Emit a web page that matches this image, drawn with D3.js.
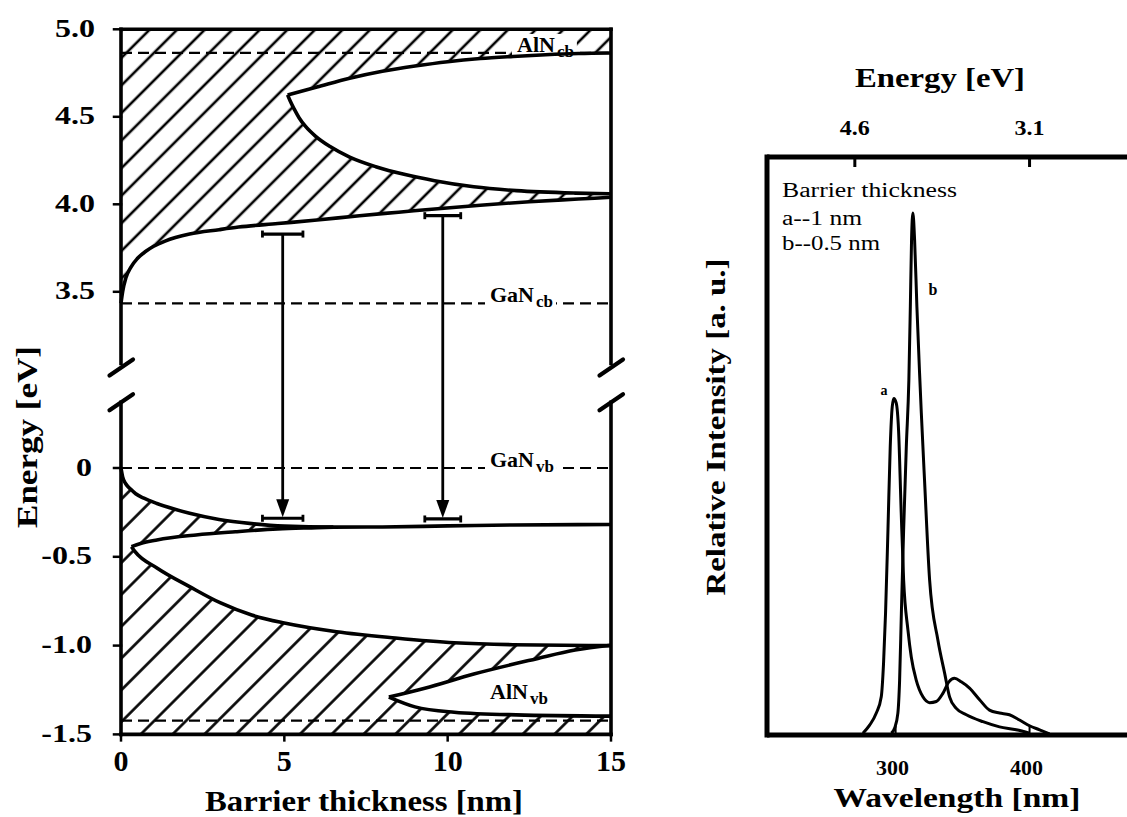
<!DOCTYPE html>
<html><head><meta charset="utf-8">
<script src="https://cdn.jsdelivr.net/npm/d3@7"></script>
<style>body{margin:0;background:#fff} svg{display:block} text{font-family:"Liberation Serif","Times New Roman",serif;fill:#000}</style>
</head><body>
<svg id="chart" width="1127" height="817"></svg>
<script>
// ---------------- data (left panel: band diagram) ----------------
const thicknessTicks = [0, 5, 10, 15];
const thicknessTickLabels = ["0", "5", "10", "15"];
const energyTicksUpper = [3.5, 4.0, 4.5, 5.0];
const energyTickLabelsUpper = ["3.5", "4.0", "4.5", "5.0"];
const energyTicksLower = [-1.5, -1.0, -0.5, 0];
const energyTickLabelsLower = ["-1.5", "-1.0", "-0.5", "0"];
const axisBreakEnergies = [3.09, 0.37];   // upper segment ends / lower segment starts

const bandEdgeNames = ["AlN", "GaN", "GaN", "AlN"];
const bandEdgeSubs = ["cb", "cb", "vb", "vb"];
const bandEdgeValues = [4.865, 3.434, 0, -1.423];

// conduction-band miniband lower edge
const cbEdgeX = [0, 0.05, 0.15, 0.3, 0.5, 0.75, 1.0, 1.35, 2.1, 3.0, 3.6, 4.8, 6.0, 7.3, 8.5, 9.7, 11, 12.5, 14, 15];
const cbEdgeE = [3.434, 3.50, 3.58, 3.64, 3.69, 3.73, 3.76, 3.79, 3.83, 3.855, 3.87, 3.89, 3.91, 3.935, 3.955, 3.975, 3.995, 4.015, 4.03, 4.04];
// conduction-band gap (white lens) upper and lower edges
const cbGapTopX = [5.1, 6.0, 7.0, 8.0, 9.0, 10.0, 11.0, 12.0, 13.0, 14.0, 15];
const cbGapTopE = [4.625, 4.67, 4.72, 4.76, 4.79, 4.815, 4.833, 4.845, 4.855, 4.862, 4.865];
const cbGapBotX = [5.1, 5.18, 5.3, 5.45, 5.65, 5.95, 6.4, 7.0, 7.8, 8.7, 9.6, 10.8, 12.1, 13.9, 15];
const cbGapBotE = [4.625, 4.59, 4.545, 4.495, 4.445, 4.39, 4.33, 4.27, 4.215, 4.17, 4.135, 4.1, 4.078, 4.064, 4.06];

// valence-band miniband upper edge
const vbEdgeX = [0, 0.05, 0.15, 0.3, 0.45, 0.7, 1.1, 1.6, 2.1, 3.0, 4.0, 5.0, 6.5, 8, 10, 12, 15];
const vbEdgeE = [0, -0.05, -0.09, -0.12, -0.145, -0.17, -0.2, -0.23, -0.255, -0.29, -0.313, -0.327, -0.333, -0.332, -0.326, -0.321, -0.318];
// valence-band gap (white lens)
const vbGapTopX = [0.32, 0.6, 1.1, 2.3, 3.5, 4.8, 6.0, 6.5];
const vbGapTopE = [-0.443, -0.425, -0.405, -0.377, -0.359, -0.343, -0.336, -0.333];
const vbGapBotX = [0.32, 0.43, 1.1, 2.1, 3.05, 4.0, 5.0, 6.6, 8.4, 10.2, 12, 15];
const vbGapBotE = [-0.443, -0.471, -0.563, -0.668, -0.76, -0.828, -0.873, -0.922, -0.957, -0.984, -0.995, -1.0];
// second valence gap near AlN_vb
const alnGapTopX = [8.2, 9.3, 10.8, 12.7, 13.9, 15];
const alnGapTopE = [-1.29, -1.24, -1.16, -1.075, -1.025, -0.998];
const alnGapBotX = [8.2, 9.0, 10.2, 12.1, 15];
const alnGapBotE = [-1.29, -1.345, -1.375, -1.39, -1.397];

// optical transitions (arrows)
const transitionX = [4.95, 9.85];
const transitionTopE = [3.83, 3.935];
const transitionBotE = [-0.283, -0.287];
const transitionHalfWidth = [0.62, 0.55];

// ---------------- data (right panel: PL spectra) ----------------
const energyTopTicks = [4.6, 3.1];
const energyTopLabels = ["4.6", "3.1"];
const wavelengthTicks = [300, 400];
const wavelengthTickLabels = ["300", "400"];
const curveAWavelength = [275.6,280.6,285.6,289.3,291,292.5,294.3,296,297.5,298.7,300.5,302.2,304.2,306,309.2,311.7,315.4,320.4,325.4,330.4,335.3,339.8,344,349,355.2,362.7,370.1,377.6,385,392.5,400,407.5,414.9];
const curveAIntensity  = [0.3,1.7,3.8,6.6,12.4,21.1,35.5,49.9,56.8,58.2,57.4,52.8,38.4,26.8,18.2,13.5,9.5,6.6,5.6,5.8,7.2,9.2,9.8,9.2,8.1,6.1,4.3,3.8,3.5,2.6,1.6,0.9,0.2];
const curveBWavelength = [296.8,299.3,301.7,303,304.3,306,308,309.9,311,311.9,312.9,314.2,315.9,317.9,319.2,321.6,325.4,331.6,336.6,340.3,345.3,352.8,365.2,377.6,390.1,400];
const curveBIntensity  = [0.3,1.2,3.8,9.5,21,35.5,49.9,61.4,74.1,85.6,90.3,85.6,74.1,62.6,55.7,44.1,26.8,16.4,10.7,6.6,4.6,3.5,2.3,1.4,0.9,0.3];
const legendLines = ["Barrier thickness", "a--1 nm", "b--0.5 nm"];

// ---------------- drawing ----------------
const svg = d3.select("#chart");
svg.append("rect").attr("width", 1127).attr("height", 817).attr("fill", "#fff");
const defs = svg.append("defs");
function hatch(id, w, sw) {
  const p = defs.append("pattern").attr("id", id).attr("patternUnits", "userSpaceOnUse")
    .attr("width", w).attr("height", w).attr("patternTransform", "rotate(45)");
  p.append("rect").attr("width", w).attr("height", w).attr("fill", "#fff");
  p.append("line").attr("x1", w / 2).attr("x2", w / 2).attr("y1", -1).attr("y2", w + 1)
    .attr("stroke", "#000").attr("stroke-width", sw);
}
hatch("hatchU", 19.5, 2.6);
hatch("hatchL", 22.5, 2.6);

const zip = (xs, ys) => xs.map((x, i) => [x, ys[i]]);
const xL = d3.scaleLinear().domain([0, 15]).range([121, 611]);
const yU = d3.scaleLinear().domain([3.5, 5.0]).range([291.8, 29.3]);
const yLo = d3.scaleLinear().domain([-1.5, 0]).range([734.4, 468]);
const lineU = d3.line().x(d => xL(d[0])).y(d => yU(d[1])).curve(d3.curveMonotoneX);
const lineLo = d3.line().x(d => xL(d[0])).y(d => yLo(d[1])).curve(d3.curveMonotoneX);
const cont = s => "L" + s.slice(1);

const L = svg.append("g");
// upper hatched region
const cbEdge = zip(cbEdgeX, cbEdgeE);
const cbTop = zip(cbGapTopX, cbGapTopE);
const cbBot = zip(cbGapBotX, cbGapBotE);
L.append("path").attr("fill", "url(#hatchU)")
  .attr("d", lineU(cbEdge) + `L${xL(15)},${yU(5)}L${xL(0)},${yU(5)}Z`);
L.append("path").attr("fill", "#fff")
  .attr("d", lineU(cbTop) + cont(lineU(cbBot.slice().reverse())) + "Z");

// lower hatched region
const vbEdge = zip(vbEdgeX, vbEdgeE);
const vbTop = zip(vbGapTopX, vbGapTopE);
const vbBot = zip(vbGapBotX, vbGapBotE);
const alnTop = zip(alnGapTopX, alnGapTopE);
const alnBot = zip(alnGapBotX, alnGapBotE);
L.append("path").attr("fill", "url(#hatchL)")
  .attr("d", lineLo(vbEdge) + `L${xL(15)},${yLo(-1.5)}L${xL(0)},${yLo(-1.5)}Z`);
const lastTopX = vbGapTopX[vbGapTopX.length - 1];
const vbTopFull = vbTop.concat(vbEdge.filter(d => d[0] > lastTopX));
L.append("path").attr("fill", "#fff")
  .attr("d", lineLo(vbTopFull) + cont(lineLo(vbBot.slice().reverse())) + "Z");
L.append("path").attr("fill", "#fff")
  .attr("d", lineLo(alnTop) + cont(lineLo(alnBot.slice().reverse())) + "Z");

// band-edge dashed lines and labels
const bandScale = [yU, yU, yLo, yLo];
const labelStartX = [517, 490, 490, 490];
bandEdgeValues.forEach((v, i) => {
  const y = bandScale[i](v);
  L.append("line").attr("x1", xL(0)).attr("x2", xL(15)).attr("y1", y).attr("y2", y)
    .attr("stroke", "#000").attr("stroke-width", 2.2).attr("stroke-dasharray", "11,6");
});
const labelG = L.append("g");
bandEdgeValues.forEach((v, i) => {
  const y = bandScale[i](v);
  const baseY = i === 3 ? yLo(-1.3) : y - 1;
  const t = labelG.append("text").attr("x", labelStartX[i]).attr("y", baseY)
    .attr("font-size", 22).attr("font-weight", "bold");
  t.append("tspan").text(bandEdgeNames[i]);
  t.append("tspan").attr("font-size", 17).attr("dy", 5).attr("dx", 2).text(bandEdgeSubs[i]);
  if (i !== 3) {
    const bb = t.node().getBBox();
    labelG.insert("rect", "text").attr("x", bb.x - 5).attr("y", bb.y + 2)
      .attr("width", bb.width + 8).attr("height", bb.height - 3).attr("fill", "#fff");
  }
});

// band curves
[[lineU, cbEdge], [lineU, cbTop], [lineU, cbBot], [lineLo, vbEdge], [lineLo, vbTop],
 [lineLo, vbBot], [lineLo, alnTop], [lineLo, alnBot]].forEach(([ln, d]) => {
  L.append("path").attr("d", ln(d)).attr("fill", "none").attr("stroke", "#000")
    .attr("stroke-width", 3.6).attr("stroke-linejoin", "round");
});

// transitions
transitionX.forEach((x, i) => {
  const cx = xL(x), y1 = yU(transitionTopE[i]), y2 = yLo(transitionBotE[i]);
  const hw = xL(transitionHalfWidth[i]) - xL(0);
  const g = L.append("g").attr("stroke", "#000").attr("stroke-width", 2.8);
  g.append("line").attr("x1", cx).attr("x2", cx).attr("y1", y1).attr("y2", y2 - 14);
  g.append("line").attr("x1", cx - hw).attr("x2", cx + hw).attr("y1", y1).attr("y2", y1).attr("stroke-width", 3.2);
  g.append("line").attr("x1", cx - hw).attr("x2", cx - hw).attr("y1", y1 - 3.5).attr("y2", y1 + 3.5);
  g.append("line").attr("x1", cx + hw).attr("x2", cx + hw).attr("y1", y1 - 3.5).attr("y2", y1 + 3.5);
  g.append("line").attr("x1", cx - hw).attr("x2", cx + hw).attr("y1", y2).attr("y2", y2).attr("stroke-width", 3.2);
  g.append("line").attr("x1", cx - hw).attr("x2", cx - hw).attr("y1", y2 - 3.5).attr("y2", y2 + 3.5);
  g.append("line").attr("x1", cx + hw).attr("x2", cx + hw).attr("y1", y2 - 3.5).attr("y2", y2 + 3.5);
  L.append("path").attr("d", `M${cx - 6.5},${y2 - 19}L${cx + 6.5},${y2 - 19}L${cx},${y2 - 1}Z`).attr("fill", "#000");
});

// frame with axis break
const ax = L.append("g").attr("stroke", "#000").attr("stroke-width", 3.6).attr("stroke-linecap", "square");
const yBreakU = yU(axisBreakEnergies[0]), yBreakL = yLo(axisBreakEnergies[1]);
ax.append("line").attr("x1", xL(0)).attr("x2", xL(15)).attr("y1", yU(5)).attr("y2", yU(5));
ax.append("line").attr("x1", xL(0)).attr("x2", xL(15)).attr("y1", yLo(-1.5)).attr("y2", yLo(-1.5));
[xL(0), xL(15)].forEach(x => {
  ax.append("line").attr("x1", x).attr("x2", x).attr("y1", yU(5)).attr("y2", yBreakU);
  ax.append("line").attr("x1", x).attr("x2", x).attr("y1", yBreakL).attr("y2", yLo(-1.5));
  [yBreakU + 4, yBreakL].forEach(yb => {
    ax.append("line").attr("x1", x - 11.5).attr("x2", x + 12).attr("y1", yb + 8).attr("y2", yb - 8)
      .attr("stroke-width", 4.2).attr("stroke-linecap", "round");
  });
});
// ticks
energyTicksUpper.forEach(v => ax.append("line").attr("x1", xL(0) - 7).attr("x2", xL(0)).attr("y1", yU(v)).attr("y2", yU(v)).attr("stroke-width", 2.5));
energyTicksLower.forEach(v => ax.append("line").attr("x1", xL(0) - 7).attr("x2", xL(0)).attr("y1", yLo(v)).attr("y2", yLo(v)).attr("stroke-width", 2.5));
thicknessTicks.forEach(v => ax.append("line").attr("x1", xL(v)).attr("x2", xL(v)).attr("y1", yLo(-1.5)).attr("y2", yLo(-1.5) + 6).attr("stroke-width", 2.5));

function stretchText(t, k) {
  const w = t.node().getComputedTextLength();
  t.attr("textLength", w * k).attr("lengthAdjust", "spacingAndGlyphs");
}
energyTicksUpper.forEach((v, i) => {
  const t = L.append("text").attr("x", 95).attr("y", yU(v) + 7.5).attr("text-anchor", "end")
    .attr("font-size", 25).attr("font-weight", "bold").text(energyTickLabelsUpper[i]);
  stretchText(t, 1.28);
});
energyTicksLower.forEach((v, i) => {
  const t = L.append("text").attr("x", 92).attr("y", yLo(v) + 7.5).attr("text-anchor", "end")
    .attr("font-size", 25).attr("font-weight", "bold").text(energyTickLabelsLower[i]);
  stretchText(t, 1.28);
});
thicknessTicks.forEach((v, i) => {
  L.append("text").attr("x", xL(v)).attr("y", 771).attr("text-anchor", "middle")
    .attr("font-size", 30).attr("font-weight", "bold").text(thicknessTickLabels[i]);
});
L.append("text").attr("x", 364).attr("y", 811).attr("text-anchor", "middle")
  .attr("font-size", 29).attr("font-weight", "bold").attr("textLength", 318)
  .attr("lengthAdjust", "spacingAndGlyphs").text("Barrier thickness [nm]");
L.append("text").attr("transform", "translate(37,437) rotate(-90)").attr("text-anchor", "middle")
  .attr("font-size", 30).attr("font-weight", "bold").attr("textLength", 182)
  .attr("lengthAdjust", "spacingAndGlyphs").text("Energy [eV]");

// ---------------- right panel ----------------
const R = svg.append("g");
const xR = d3.scaleLinear().domain([204, 472]).range([767, 1126]);
const yR = d3.scaleLinear().domain([0, 100]).range([735, 157]);
const lineR = d3.line().x(d => xR(d[0])).y(d => yR(d[1])).curve(d3.curveMonotoneX);
R.append("path").attr("d", lineR(zip(curveAWavelength, curveAIntensity))).attr("fill", "none")
  .attr("stroke", "#000").attr("stroke-width", 3).attr("stroke-linejoin", "round");
R.append("path").attr("d", lineR(zip(curveBWavelength, curveBIntensity))).attr("fill", "none")
  .attr("stroke", "#000").attr("stroke-width", 3).attr("stroke-linejoin", "round");

const fr = R.append("g").attr("stroke", "#000").attr("stroke-width", 5);
fr.append("line").attr("x1", xR.range()[0]).attr("x2", 1127).attr("y1", yR(100)).attr("y2", yR(100));
fr.append("line").attr("x1", xR.range()[0]).attr("x2", 1127).attr("y1", yR(0)).attr("y2", yR(0));
fr.append("line").attr("x1", xR.range()[0]).attr("x2", xR.range()[0]).attr("y1", yR(100) - 2.5).attr("y2", yR(0) + 2.5);
energyTopTicks.forEach((e, i) => {
  const x = xR(1240 / e);
  fr.append("line").attr("x1", x).attr("x2", x).attr("y1", yR(100)).attr("y2", yR(100) + 10).attr("stroke-width", 3);
  const t = R.append("text").attr("x", x).attr("y", 135).attr("text-anchor", "middle")
    .attr("font-size", 20).attr("font-weight", "bold").text(energyTopLabels[i]);
  stretchText(t, 1.2);
});
wavelengthTicks.forEach((w, i) => {
  const x = xR(w);
  fr.append("line").attr("x1", x).attr("x2", x).attr("y1", yR(0)).attr("y2", yR(0) - 9).attr("stroke-width", 2);
  R.append("text").attr("x", x - 3).attr("y", 775).attr("text-anchor", "middle")
    .attr("font-size", 22).attr("font-weight", "bold").text(wavelengthTickLabels[i]);
});
R.append("text").attr("x", 940).attr("y", 87).attr("text-anchor", "middle")
  .attr("font-size", 27).attr("font-weight", "bold").attr("textLength", 170)
  .attr("lengthAdjust", "spacingAndGlyphs").text("Energy [eV]");
R.append("text").attr("x", 957).attr("y", 807).attr("text-anchor", "middle")
  .attr("font-size", 28).attr("font-weight", "bold").attr("textLength", 247)
  .attr("lengthAdjust", "spacingAndGlyphs").text("Wavelength [nm]");
R.append("text").attr("transform", "translate(725,427) rotate(-90)").attr("text-anchor", "middle")
  .attr("font-size", 27).attr("font-weight", "bold").attr("textLength", 337)
  .attr("lengthAdjust", "spacingAndGlyphs").text("Relative Intensity [a. u.]");
const legendY = [196.5, 225, 250], legendW = [175, 80, 98];
legendLines.forEach((s, i) => {
  R.append("text").attr("x", 782).attr("y", legendY[i]).attr("font-size", 20)
    .attr("textLength", legendW[i]).attr("lengthAdjust", "spacingAndGlyphs").text(s);
});
R.append("text").attr("x", 884).attr("y", 395).attr("text-anchor", "middle").attr("font-size", 14).attr("font-weight", "bold").text("a");
R.append("text").attr("x", 933).attr("y", 295).attr("text-anchor", "middle").attr("font-size", 16).attr("font-weight", "bold").text("b");
</script>
</body></html>
